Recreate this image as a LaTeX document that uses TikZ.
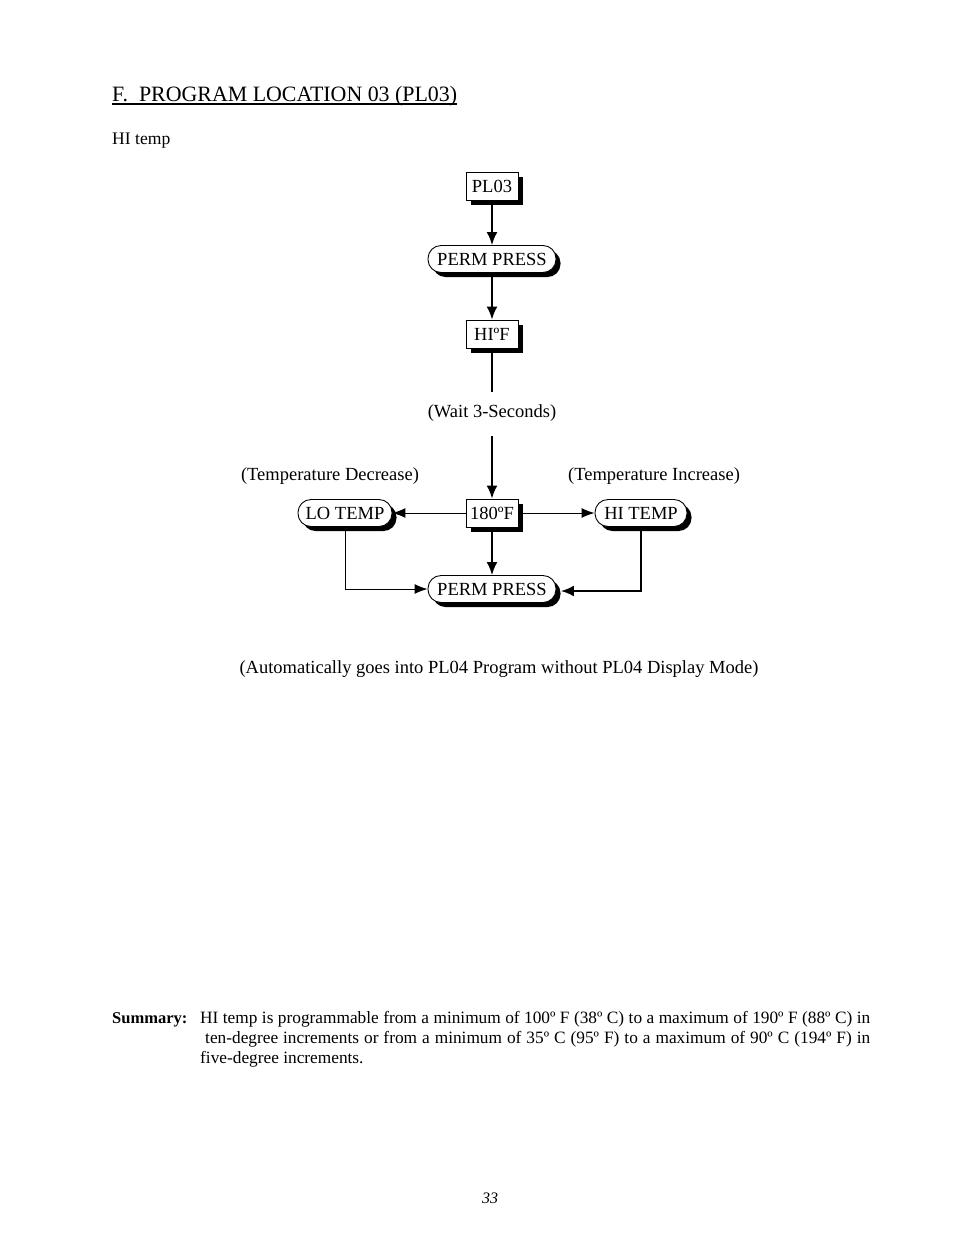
\documentclass[tikz,border=0pt]{standalone}
\usepackage{fontspec}
\setmainfont{Liberation Serif}
\usetikzlibrary{arrows.meta,shadows,positioning}
\begin{document}
\begin{tikzpicture}[x=1pt,y=-1pt,
  shad/.style={drop shadow={shadow xshift=4.5pt,shadow yshift=-4.5pt,fill=black,opacity=1}},
  sqbox/.style={draw,line width=0.9pt,fill=white,shad,minimum width=52pt,minimum height=28pt,inner sep=0pt,font=\fontsize{18.5}{20}\selectfont},
  rbox/.style={draw,line width=0.9pt,fill=white,shad,rounded corners=13pt,minimum height=27pt,inner sep=0pt,font=\fontsize{18.5}{20}\selectfont},
  lbl/.style={font=\fontsize{18.5}{20}\selectfont,inner sep=0pt},
  thk/.style={line width=2pt,-{Latex[length=13pt,width=11pt]}},
  thn/.style={line width=1pt,-{Latex[length=13pt,width=10pt]}}
]
\useasboundingbox (0,0) rectangle (954,1235);
% title
\node[anchor=base west,inner sep=0pt,font=\fontsize{21.9}{24}\selectfont] (title) at (112,101) {F.\ \ PROGRAM LOCATION 03 (PL03)};
\draw[line width=1.2pt] (title.base west) ++(0,3) coordinate (ul1) -- (ul1 -| title.base east);
\node[anchor=base west,inner sep=0pt,font=\fontsize{17.6}{20}\selectfont] (sub) at (112,144) {HI temp};
% nodes
\node[sqbox] (pl03) at (492,186) {PL03};
\node[rbox,minimum width=128pt] (perm1) at (492,259) {PERM PRESS};
\node[sqbox] (hif) at (492,334) {HIºF};
\coordinate (wait1) at (492,392);
\node[lbl] (wait) at (492,413) {(Wait 3-Seconds)};
\coordinate (wait2) at (492,436);
\node[sqbox] (t180) at (492,513) {180ºF};
\node[rbox,minimum width=94pt] (lo) at (345,513) {LO TEMP};
\node[rbox,minimum width=92pt] (hi) at (641,513) {HI TEMP};
\node[rbox,minimum width=128pt] (perm2) at (492,589) {PERM PRESS};
\node[lbl] (dec) at (330,476) {(Temperature Decrease)};
\node[lbl] (inc) at (654,476) {(Temperature Increase)};
\node[lbl] (auto) at (499,669) {(Automatically goes into PL04 Program without PL04 Display Mode)};
% connectors
\draw[thk] (pl03) -- (perm1);
\draw[thk] (perm1) -- (hif);
\draw[line width=2pt] (hif) -- (wait1);
\draw[thk] (wait2) -- (t180);
\draw[thn] (t180) -- (lo);
\draw[thn] (t180) -- (hi);
\draw[thk] (t180) -- (perm2);
\draw[thn] (lo.south) |- (perm2.west);
\draw[thk] (hi.south) |- ([xshift=4.5pt,yshift=-2pt]perm2.east);
% summary
\node[anchor=base west,inner sep=0pt,font=\fontsize{16.5}{20}\selectfont\bfseries] (sumlbl) at (112,1023) {Summary:};
\node[anchor=base west,inner sep=0pt,font=\fontsize{17.3}{20}\selectfont] (s1) at (200,1023) {\hbox to 670pt{HI temp is programmable from a minimum of 100º F (38º C) to a maximum of 190º F (88º C) in}};
\node[anchor=base west,inner sep=0pt,font=\fontsize{17.3}{20}\selectfont] (s2) at (205,1043) {\hbox to 665pt{ten-degree increments or from a minimum of 35º C (95º F) to a maximum of 90º C (194º F) in}};
\node[anchor=base west,inner sep=0pt,font=\fontsize{17.3}{20}\selectfont] (s3) at (200,1063) {five-degree increments.};
\node[anchor=base,inner sep=0pt,font=\fontsize{16}{20}\selectfont\itshape] (pg) at (490,1203) {33};
\end{tikzpicture}
\end{document}
